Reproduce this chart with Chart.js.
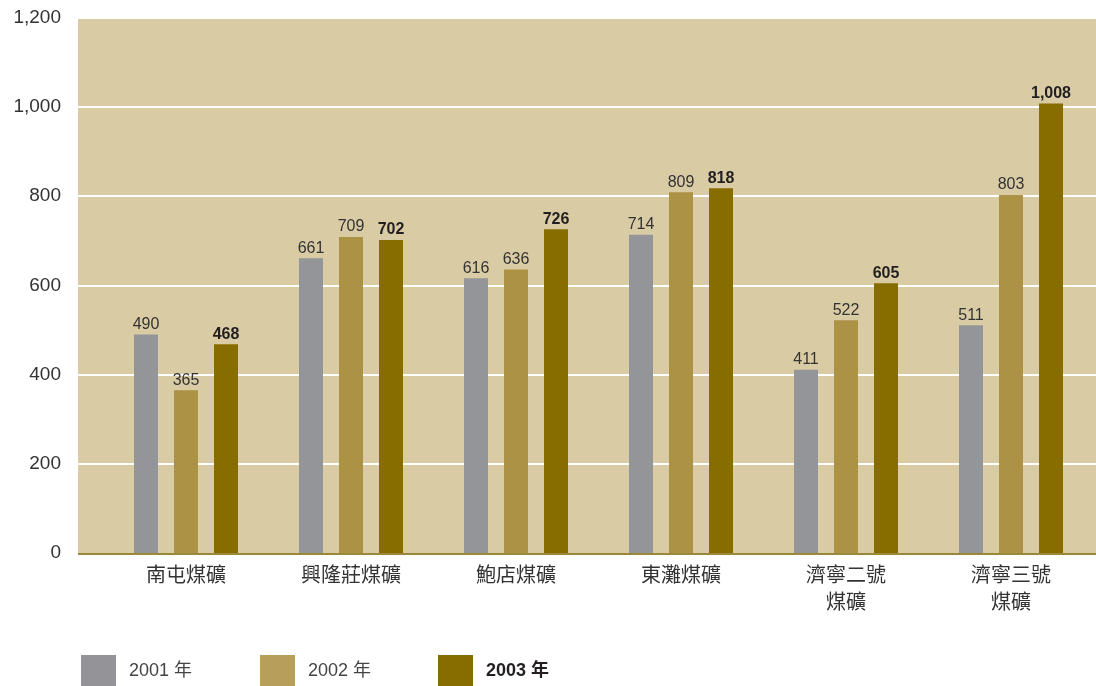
<!DOCTYPE html>
<html>
<head>
<meta charset="utf-8">
<script src="https://cdn.jsdelivr.net/npm/chart.js@4"></script>
<style>
  html, body { margin: 0; padding: 0; background: #fff; }
  #wrap { width: 1096px; height: 686px; position: relative; }
</style>
</head>
<body>
<div id="wrap"><canvas id="mineChart"></canvas></div>
<script>
// categories and values
const mines = ['南屯煤礦', '興隆莊煤礦', '鮑店煤礦', '東灘煤礦', ['濟寧二號', '煤礦'], ['濟寧三號', '煤礦']];
const years = ['2001 年', '2002 年', '2003 年'];
const output2001 = [490, 661, 616, 714, 411, 511];
const output2002 = [365, 709, 636, 809, 522, 803];
const output2003 = [468, 702, 726, 818, 605, 1008];
const yTicks = [0, 200, 400, 600, 800, 1000, 1200];

const barColors = ['#939599', '#ab9245', '#876d00'];
const legendColors = ['#949498', '#b79f5b', '#876d00'];
const fontFamily = '"Liberation Sans", "Noto Sans CJK TC", sans-serif';

// background, white grid lines and y labels over the full panel
// (the panel is wider than the category area on the left)
const panelPlugin = {
  id: 'panel',
  beforeDraw(chart) {
    const { ctx, chartArea, scales } = chart;
    const left = 78, right = chart.width;
    ctx.save();
    ctx.fillStyle = '#d9cba4';
    ctx.fillRect(left, chartArea.top, right - left, chartArea.bottom - chartArea.top);
    ctx.strokeStyle = '#ffffff';
    ctx.lineWidth = 2;
    ctx.font = '19px ' + fontFamily;
    ctx.fillStyle = '#333333';
    ctx.textAlign = 'right';
    ctx.textBaseline = 'middle';
    yTicks.forEach(v => {
      const y = Math.round(scales.y.getPixelForValue(v));
      ctx.fillText(v.toLocaleString('en-US'), 61, y);
      if (v === 0) return;
      ctx.beginPath();
      ctx.moveTo(left, y);
      ctx.lineTo(right, y);
      ctx.stroke();
    });
    ctx.restore();
  },
  afterDatasetsDraw(chart) {
    const { ctx, chartArea } = chart;
    ctx.save();
    // baseline
    ctx.strokeStyle = '#9c8839';
    ctx.lineWidth = 2;
    ctx.beginPath();
    ctx.moveTo(78, chartArea.bottom + 1);
    ctx.lineTo(chart.width, chartArea.bottom + 1);
    ctx.stroke();

    // value labels
    ctx.textAlign = 'center';
    ctx.textBaseline = 'bottom';
    chart.data.datasets.forEach((ds, i) => {
      const meta = chart.getDatasetMeta(i);
      ctx.font = (i === 2 ? 'bold ' : '') + '16px ' + fontFamily;
      ctx.fillStyle = i === 2 ? '#231f20' : '#333333';
      meta.data.forEach((bar, j) => {
        ctx.fillText(ds.data[j].toLocaleString('en-US'), bar.x, bar.y - 2);
      });
    });

    // legend
    const boxX = [81, 260, 438];
    ctx.textAlign = 'left';
    ctx.textBaseline = 'middle';
    years.forEach((label, i) => {
      ctx.fillStyle = legendColors[i];
      ctx.fillRect(boxX[i], 655, 35, 31);
      ctx.font = (i === 2 ? 'bold ' : '') + '18px ' + fontFamily;
      ctx.fillStyle = i === 2 ? '#231f20' : '#444444';
      ctx.fillText(label, boxX[i] + 48, 671);
    });
    ctx.restore();
  }
};

const data = {
  labels: mines,
  datasets: [
    { label: years[0], data: output2001, backgroundColor: barColors[0] },
    { label: years[1], data: output2002, backgroundColor: barColors[1] },
    { label: years[2], data: output2003, backgroundColor: barColors[2] }
  ]
};

const config = {
  type: 'bar',
  data: data,
  options: {
    responsive: false,
    animation: false,
    layout: { padding: { top: 18, right: 2.5, left: 0, bottom: 0 } },
    datasets: {
      bar: { categoryPercentage: 120 / 165, barPercentage: 0.6 }
    },
    plugins: {
      legend: { display: false },
      tooltip: { enabled: false }
    },
    scales: {
      x: {
        grid: { display: false, drawTicks: false },
        border: { display: false },
        ticks: {
          padding: 10,
          color: '#333333',
          font: { family: fontFamily, size: 20, lineHeight: 1.35 },
          maxRotation: 0,
          autoSkip: false
        },
        afterFit(scale) { scale.height = 133; }
      },
      y: {
        min: 0,
        max: 1200,
        grid: { display: false, drawTicks: false },
        border: { display: false },
        afterBuildTicks(scale) { scale.ticks = yTicks.map(v => ({ value: v })); },
        ticks: { display: false, padding: 0 },
        afterFit(scale) { scale.width = 103.5; }
      }
    }
  },
  plugins: [panelPlugin]
};

const canvas = document.getElementById('mineChart');
canvas.width = 1096;
canvas.height = 686;
new Chart(canvas, config);
</script>
</body>
</html>
